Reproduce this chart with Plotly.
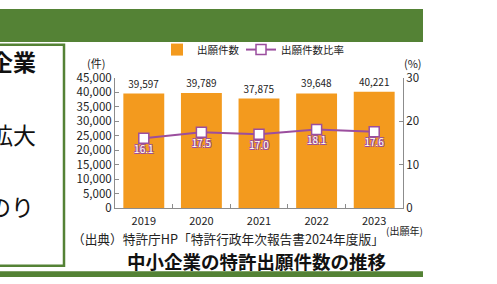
import plotly.graph_objects as go

years = ["2019", "2020", "2021", "2022", "2023"]
applications = [39597, 39789, 37875, 39648, 40221]
ratio = [16.1, 17.5, 17.0, 18.1, 17.6]
left_ticks = [0, 5000, 10000, 15000, 20000, 25000, 30000, 35000, 40000, 45000]
right_ticks = [0, 10, 20, 30]

W, H = 497, 284
FONT = "Noto Sans CJK JP"
ORANGE = "#F39A1E"
PURPLE = "#9B4E9E"
GREEN = "#548235"
AXIS = "#8C8C8C"

def px(x):
    return x / W

def py(y):
    return 1 - y / H

fig = go.Figure()
fig.add_trace(go.Bar(
    x=years, y=applications, name="出願件数", legend="legend",
    marker=dict(color=ORANGE, line=dict(width=0)),
    text=[f"{v:,}" for v in applications], textposition="outside",
    textfont=dict(size=10, color="#222", family=FONT),
    cliponaxis=False,
))
fig.add_trace(go.Scatter(
    x=years, y=ratio, name="出願件数比率", yaxis="y2", legend="legend2",
    mode="lines+markers+text",
    line=dict(color=PURPLE, width=2),
    marker=dict(symbol="square", size=10, color="white", line=dict(color=PURPLE, width=1.5)),
    text=[f"{v:.1f}" for v in ratio], textposition="bottom center",
    textfont=dict(size=10, color="white", family=FONT,
                  shadow=f"-1px -1px 0 {PURPLE}, 1px -1px 0 {PURPLE}, -1px 1px 0 {PURPLE}, 1px 1px 0 {PURPLE}"),
    cliponaxis=False,
))

legend_common = dict(orientation="h", xanchor="left", yanchor="middle",
                     font=dict(size=10.5, family=FONT, color="#222"), bgcolor="rgba(0,0,0,0)",
                     itemwidth=30)

fig.update_layout(
    width=W, height=H, margin=dict(l=0, r=0, t=0, b=0),
    paper_bgcolor="white", plot_bgcolor="white",
    font=dict(family=FONT, size=11, color="#222"),
    bargap=0.29,
    showlegend=True,
    legend=dict(x=px(157), y=py(43), **legend_common),
    legend2=dict(x=px(241), y=py(43), **legend_common),
    xaxis=dict(domain=[px(115), px(403)], type="category",
               showline=True, linecolor=AXIS, linewidth=1,
               ticks="inside", tickson="boundaries", ticklen=4, tickcolor=AXIS,
               ticklabelstandoff=3,
               tickfont=dict(size=11, color="#222")),
    yaxis=dict(domain=[py(211), py(73)], range=[0, 45000], tickvals=left_ticks,
               tickformat=",", showgrid=False, zeroline=False,
               showline=True, linecolor=AXIS, linewidth=1,
               ticks="inside", ticklen=4, tickcolor=AXIS,
               tickfont=dict(size=11.5, color="#222")),
    yaxis2=dict(overlaying="y", side="right", range=[0, 30], tickvals=right_ticks,
                showgrid=False, zeroline=False,
                showline=True, linecolor=AXIS, linewidth=1,
                ticks="inside", ticklen=4, tickcolor=AXIS,
                tickfont=dict(size=11.5, color="#222")),
)

shapes = [
    dict(type="rect", xref="paper", yref="paper", x0=0, x1=px(423), y0=py(35), y1=1,
         fillcolor=GREEN, line=dict(width=0), layer="below"),
    dict(type="rect", xref="paper", yref="paper", x0=0, x1=px(423), y0=0, y1=py(278),
         fillcolor=GREEN, line=dict(width=0), layer="below"),
    dict(type="rect", xref="paper", yref="paper", x0=px(-10), x1=px(64), y0=py(272), y1=py(38),
         fillcolor="rgba(0,0,0,0)", line=dict(color=GREEN, width=2.5), layer="below"),
]
fig.update_layout(shapes=shapes)

ann = [
    dict(text="中小企業", x=px(38), y=py(55), xanchor="right", yanchor="middle",
         font=dict(size=23, family=FONT, color="#111", weight="bold")),
    dict(text="拡大", x=px(38), y=py(132), xanchor="right", yanchor="middle",
         font=dict(size=23, family=FONT, color="#111")),
    dict(text="のり", x=px(36), y=py(209), xanchor="right", yanchor="middle",
         font=dict(size=23, family=FONT, color="#111")),
    dict(text="(件)", x=px(96), y=py(57), xanchor="center", yanchor="middle",
         font=dict(size=11, family=FONT, color="#222")),
    dict(text="(%)", x=px(413), y=py(57), xanchor="center", yanchor="middle",
         font=dict(size=11, family=FONT, color="#222")),
    dict(text="(出願年)", x=px(404), y=py(235), xanchor="center", yanchor="middle",
         font=dict(size=10, family=FONT, color="#222")),
    dict(text="（出典）特許庁HP「特許行政年次報告書2024年度版」", x=px(70), y=py(243),
         xanchor="left", yanchor="middle",
         font=dict(size=12.7, family=FONT, color="#222")),
    dict(text="中小企業の特許出願件数の推移", x=px(256), y=py(267), xanchor="center", yanchor="middle",
         font=dict(size=18.5, family=FONT, color="#111", weight="bold")),
]
for a in ann:
    a.update(xref="paper", yref="paper", showarrow=False)
fig.update_layout(annotations=ann)

fig.write_html("out.html")
